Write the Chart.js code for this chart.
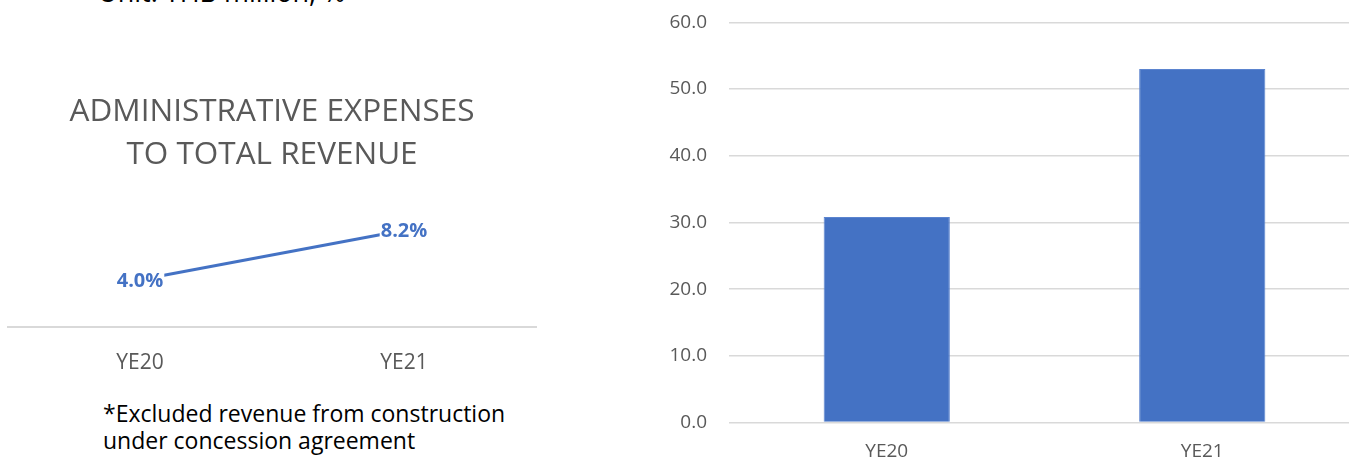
<!DOCTYPE html>
<html>
<head>
<meta charset="utf-8">
<script src="https://cdn.jsdelivr.net/npm/chart.js@4"></script>
<style>
  html, body { margin: 0; padding: 0; background: #fff; width: 1349px; height: 460px; overflow: hidden; position: relative; font-family: "Open Sans", sans-serif; }
  #unit { position: absolute; left: 98px; top: -22px; font-size: 27px; line-height: 27px; color: #000; white-space: nowrap; }
  #note { position: absolute; left: 103px; top: 400px; font-size: 23px; line-height: 27.3px; color: #000; white-space: nowrap; }
  #leftWrap { position: absolute; left: 0; top: 0; width: 545px; height: 390px; }
  #rightWrap { position: absolute; left: 640px; top: -11px; width: 730px; height: 471px; }
</style>
</head>
<body>
<div id="unit">Unit: THB million, %</div>
<div id="leftWrap"><canvas id="ratio"></canvas></div>
<div id="note">*Excluded revenue from construction<br>under concession agreement</div>
<div id="rightWrap"><canvas id="expense"></canvas></div>
<script>
const categories = ["YE20", "YE21"];
const ratioValues = [4.0, 8.2];           // % admin expenses to total revenue
const expenseValues = [30.8, 53.0];       // THB million
const ratioTitle = ["ADMINISTRATIVE EXPENSES", "TO TOTAL REVENUE"];
const expenseTicks = [0, 10, 20, 30, 40, 50, 60];

const FONT = "'Open Sans', sans-serif";
const BLUE = "#4472C4";
const GREY = "#595959";
const GRID = "#D9D9D9";

const labelPlugin = {
  id: "pointLabels",
  afterDatasetsDraw(chart) {
    const ctx = chart.ctx;
    const meta = chart.getDatasetMeta(0);
    ctx.save();
    ctx.font = "bold 20px " + FONT;
    ctx.textAlign = "center";
    ctx.textBaseline = "middle";
    meta.data.forEach((pt, i) => {
      const txt = chart.data.datasets[0].data[i].toFixed(1) + "%";
      const w = ctx.measureText(txt).width;
      ctx.fillStyle = "#fff";
      ctx.fillRect(pt.x - w / 2 - 1, pt.y - 11, w + 2, 22);
      ctx.fillStyle = BLUE;
      ctx.fillText(txt, pt.x, pt.y + 1);
    });
    ctx.restore();
  }
};

new Chart(document.getElementById("ratio"), {
  type: "line",
  data: {
    labels: categories,
    datasets: [{ data: ratioValues, borderColor: BLUE, borderWidth: 3, pointRadius: 0, tension: 0, fill: false }]
  },
  options: {
    responsive: true,
    maintainAspectRatio: false,
    animation: false,
    layout: { padding: { left: 8, right: 9, top: 0, bottom: 0 } },
    plugins: {
      legend: { display: false },
      tooltip: { enabled: false },
      title: {
        display: true,
        text: ratioTitle,
        color: GREY,
        font: { family: FONT, size: 31.5, weight: "normal", lineHeight: 1.381 },
        padding: { top: 90, bottom: 32 }
      }
    },
    scales: {
      x: {
        offset: true,
        grid: { display: false, drawTicks: false },
        border: { display: true, color: GRID, width: 2 },
        ticks: { color: GREY, font: { family: FONT, size: 21 }, padding: 23 },
        afterFit(s) { s.height = 63; }
      },
      y: { display: false, min: 0, max: 10 }
    }
  },
  plugins: [labelPlugin]
});

new Chart(document.getElementById("expense"), {
  type: "bar",
  data: {
    labels: categories,
    datasets: [{ data: expenseValues, backgroundColor: BLUE, borderColor: "#5B84CF", borderWidth: 1, categoryPercentage: 1, barPercentage: 0.4 }]
  },
  options: {
    responsive: true,
    maintainAspectRatio: false,
    animation: false,
    layout: { padding: { left: 0, right: 10, top: 11, bottom: 0 } },
    plugins: { legend: { display: false }, tooltip: { enabled: false } },
    scales: {
      x: {
        grid: { display: false, drawTicks: false },
        border: { display: false },
        ticks: { color: GREY, font: { family: FONT, size: 19 }, padding: 18 },
        afterFit(s) { s.height = 37.5; }
      },
      y: {
        min: 0, max: 60,
        afterBuildTicks(s) { s.ticks = expenseTicks.map(v => ({ value: v })); },
        grid: { color: GRID, lineWidth: 1.6, drawTicks: false },
        border: { display: false },
        ticks: { color: GREY, font: { family: FONT, size: 19 }, padding: 22, callback: v => Number(v).toFixed(1) },
        afterFit(s) { s.width = 89; }
      }
    }
  }
});
</script>
</body>
</html>
